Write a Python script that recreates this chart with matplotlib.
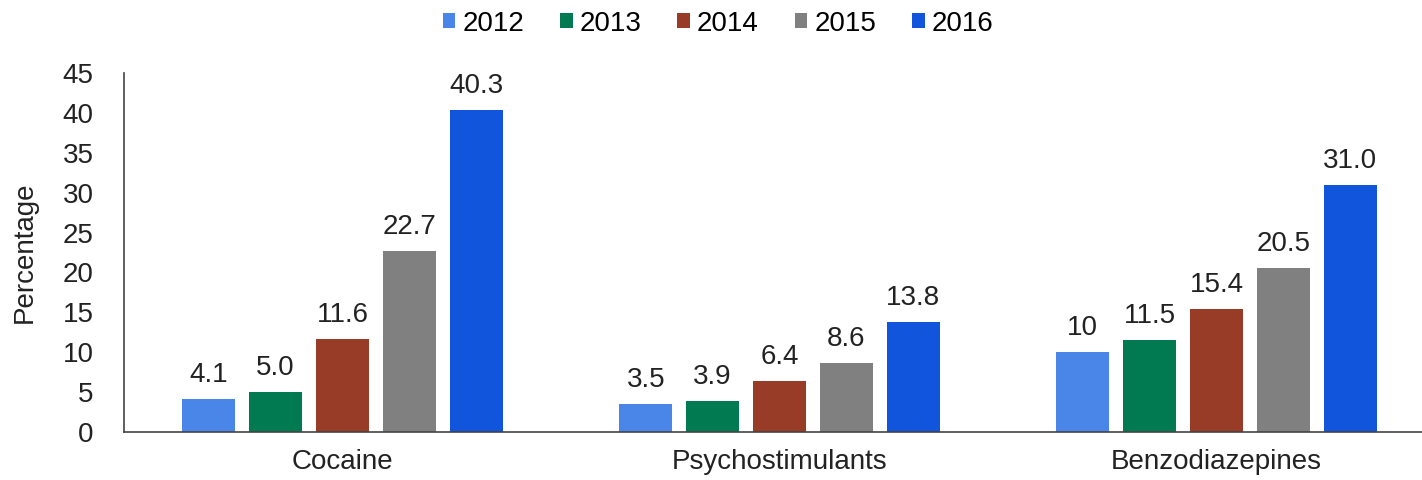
import matplotlib.pyplot as plt
import numpy as np

plt.rcParams['font.family'] = ['Liberation Sans', 'DejaVu Sans']

categories = ['Cocaine', 'Psychostimulants', 'Benzodiazepines']
years = ['2012', '2013', '2014', '2015', '2016']
values = {
    '2012': [4.1, 3.5, 10],
    '2013': [5.0, 3.9, 11.5],
    '2014': [11.6, 6.4, 15.4],
    '2015': [22.7, 8.6, 20.5],
    '2016': [40.3, 13.8, 31.0],
}
labels = {
    '2012': ['4.1', '3.5', '10'],
    '2013': ['5.0', '3.9', '11.5'],
    '2014': ['11.6', '6.4', '15.4'],
    '2015': ['22.7', '8.6', '20.5'],
    '2016': ['40.3', '13.8', '31.0'],
}
colors = ['#4a86e8', '#017a52', '#993c27', '#808080', '#1155dc']

fig = plt.figure(figsize=(14.22, 4.8), dpi=100)
ax = fig.add_axes([0.0872, 0.1, 0.922, 0.748])

x = np.arange(len(categories))
step = 0.153
width = 0.121
for i, yr in enumerate(years):
    bars = ax.bar(x + (i - 2) * step, values[yr], width, color=colors[i], label=yr)
    ax.bar_label(bars, labels=labels[yr], padding=8, fontsize=20, color='#222222')

ax.set_xlim(-0.5, 2.5)
ax.set_ylim(0, 45)
ax.set_yticks(range(0, 46, 5))
ax.set_xticks(x)
ax.set_xticklabels(categories)
ax.tick_params(axis='both', length=0, labelsize=20, colors='#222222')
ax.tick_params(axis='x', pad=12)
ax.tick_params(axis='y', pad=22)
ax.set_ylabel('Percentage', fontsize=20, color='#222222', labelpad=18)
for s in ['top', 'right']:
    ax.spines[s].set_visible(False)
for s in ['left', 'bottom']:
    ax.spines[s].set_color('#444444')
    ax.spines[s].set_linewidth(1.2)

fig.legend(loc='upper center', bbox_to_anchor=(0.505, 1.03), ncol=5, frameon=False,
           fontsize=20, handlelength=0.45, handleheight=0.45, handletextpad=0.25,
           columnspacing=1.3)

fig.savefig('out.png', dpi=100)
